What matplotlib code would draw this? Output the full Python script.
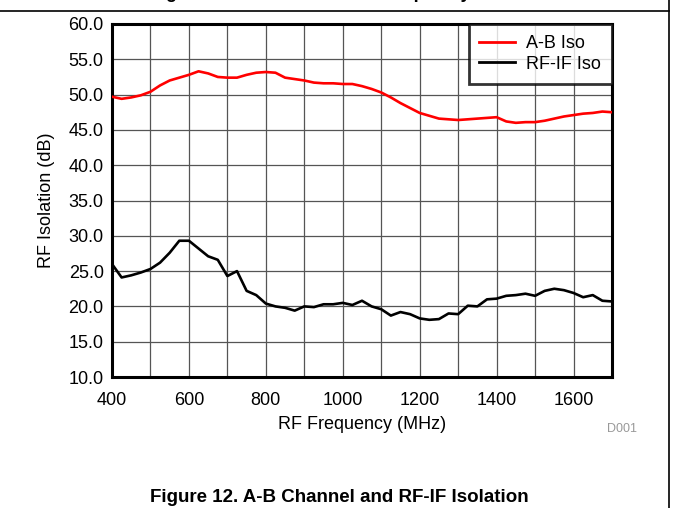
import matplotlib
matplotlib.use("Agg")
import matplotlib.pyplot as plt
from matplotlib.lines import Line2D
from matplotlib.ticker import MultipleLocator

plt.rcParams['font.family'] = ['Liberation Sans', 'DejaVu Sans']

freq_mhz = [400, 425, 450, 475, 500, 525, 550, 575, 600, 625, 650, 675, 700,
            725, 750, 775, 800, 825, 850, 875, 900, 925, 950, 975, 1000, 1025,
            1050, 1075, 1100, 1125, 1150, 1175, 1200, 1225, 1250, 1275, 1300,
            1325, 1350, 1375, 1400, 1425, 1450, 1475, 1500, 1525, 1550, 1575,
            1600, 1625, 1650, 1675, 1700]

ab_iso = [49.7, 49.4, 49.6, 49.9, 50.4, 51.3, 52.0, 52.4, 52.8, 53.3, 53.0,
          52.5, 52.4, 52.4, 52.8, 53.1, 53.2, 53.1, 52.4, 52.2, 52.0, 51.7,
          51.6, 51.6, 51.5, 51.5, 51.2, 50.8, 50.3, 49.6, 48.8, 48.1, 47.4,
          47.0, 46.6, 46.5, 46.4, 46.5, 46.6, 46.7, 46.8, 46.2, 46.0, 46.1,
          46.1, 46.3, 46.6, 46.9, 47.1, 47.3, 47.4, 47.6, 47.5]

rfif_iso = [26.0, 24.1, 24.4, 24.8, 25.3, 26.2, 27.6, 29.3, 29.3, 28.2, 27.1,
            26.6, 24.3, 25.0, 22.2, 21.6, 20.4, 20.0, 19.8, 19.4, 20.0, 19.9,
            20.3, 20.3, 20.5, 20.2, 20.8, 20.0, 19.6, 18.7, 19.2, 18.9, 18.3,
            18.1, 18.2, 19.0, 18.9, 20.1, 20.0, 21.0, 21.1, 21.5, 21.6, 21.8,
            21.5, 22.2, 22.5, 22.3, 21.9, 21.3, 21.6, 20.8, 20.7]

x_ticks = [400, 600, 800, 1000, 1200, 1400, 1600]

W, H = 673, 508
fig = plt.figure(figsize=(W / 100, H / 100), dpi=100)
ax = fig.add_axes([112 / W, (H - 377) / H, 500 / W, 353 / H])

ax.plot(freq_mhz, ab_iso, color='#ff0000', lw=1.9, label='A-B Iso', zorder=3)
ax.plot(freq_mhz, rfif_iso, color='black', lw=1.9, label='RF-IF Iso', zorder=3)

ax.set_xlim(400, 1700)
ax.set_ylim(10, 60)
ax.set_xticks(x_ticks)
ax.xaxis.set_minor_locator(MultipleLocator(100))
ax.yaxis.set_major_locator(MultipleLocator(5))
ax.yaxis.set_major_formatter(lambda v, p: f"{v:.1f}")
ax.grid(True, which='both', color='#555555', lw=0.9)
ax.tick_params(which='both', length=0, labelsize=13)
ax.tick_params(axis='y', pad=6)
ax.tick_params(axis='x', pad=11)
for s in ax.spines.values():
    s.set_linewidth(2.2)

ax.set_xlabel('RF Frequency (MHz)', fontsize=13, labelpad=5)
ax.set_ylabel('RF Isolation (dB)', fontsize=13, labelpad=10)

leg = ax.legend(loc='upper right', fontsize=13, frameon=True, fancybox=False,
                borderaxespad=0, handlelength=2.0, handletextpad=0.6,
                borderpad=0.6, labelspacing=0.22)
leg.get_frame().set_edgecolor('black')
leg.get_frame().set_linewidth(2.0)
for h in leg.get_lines():
    h.set_linewidth(2.0)

fig.text(622 / W, 1 - 429 / H, 'D001', fontsize=9, color='#999999',
         ha='center', va='center')
fig.text(339 / W, 1 - 497 / H, 'Figure 12. A-B Channel and RF-IF Isolation',
         fontsize=13.5, fontweight='bold', ha='center', va='center')
# caption of the figure above, cut off at the top edge like the source page
fig.text(150 / W, 1 + 1.5 / H, 'Figure 11. A-B Isolation vs Frequency',
         fontsize=13, fontweight='bold', ha='left', va='baseline')

# page frame lines
fig.add_artist(Line2D([0, 669 / W], [1 - 10.5 / H, 1 - 10.5 / H],
                      color='black', lw=1.2, transform=fig.transFigure))
fig.add_artist(Line2D([669 / W, 669 / W], [0, 1], color='black', lw=1.2,
                      transform=fig.transFigure))

fig.savefig('out.png', dpi=100)
